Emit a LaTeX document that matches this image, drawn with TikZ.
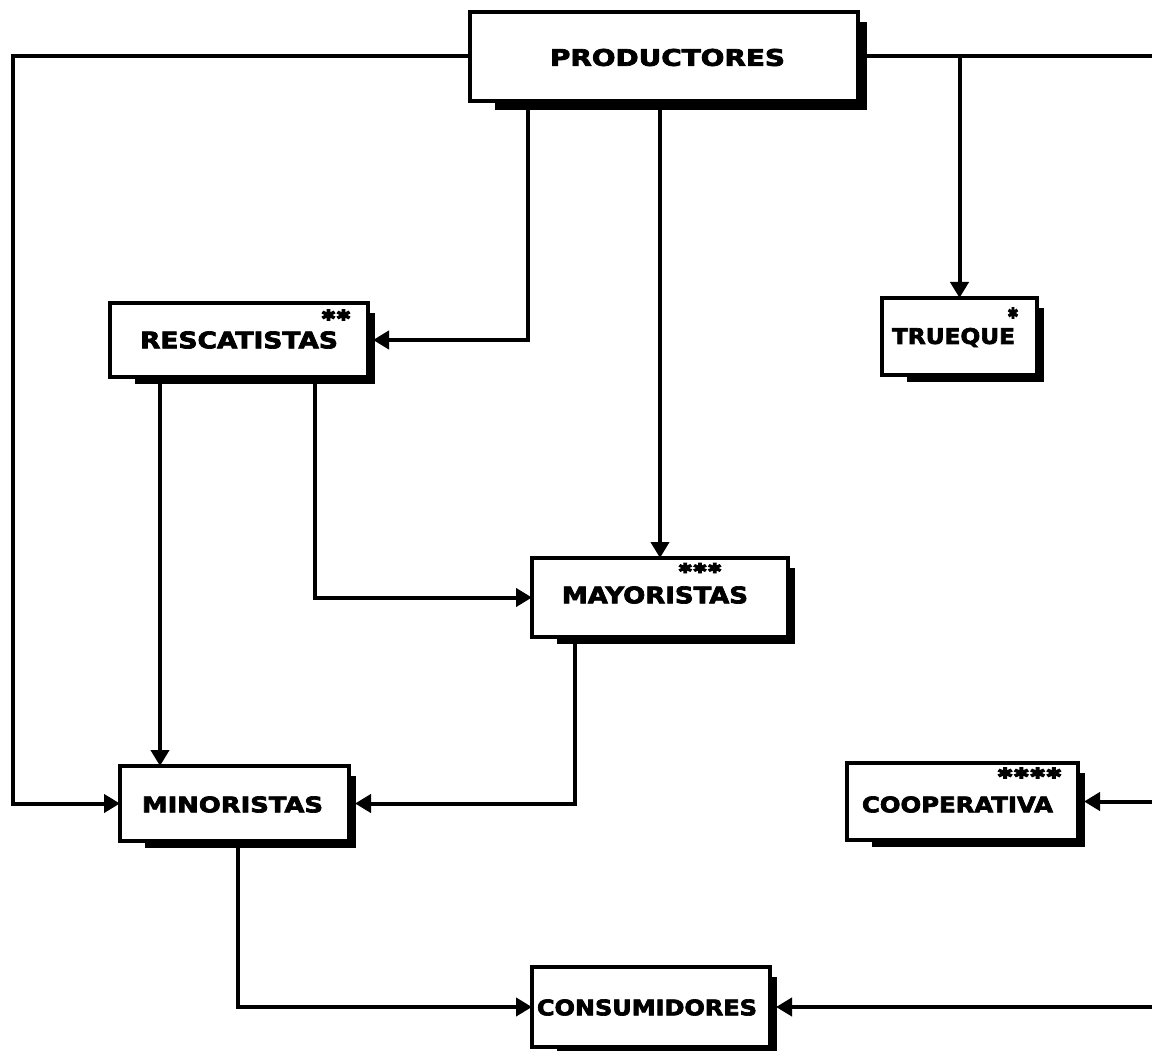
\documentclass[tikz,border=0pt]{standalone}
\usepackage{fontspec}
\setmainfont{DejaVu Sans}
\newfontfamily\heavy[BoldFeatures={FakeBold=3}]{DejaVu Sans}
\newfontfamily\starfont[FakeBold=6]{DejaVu Sans}
\usetikzlibrary{arrows.meta}
\tikzset{
  bx/.style={draw, line width=4.5pt, fill=white, inner sep=0pt, outer sep=0pt, rectangle},
  lbl/.style={inner sep=0pt, outer sep=0pt, anchor=center},
  conn/.style={line width=4pt, -{Triangle[length=16pt,width=18pt]}},
  plain/.style={line width=4pt}
}
\newcommand{\bxdraw}[6]{%
  \fill ({#2+25},{#3+10}) rectangle ({#4+#6},{#5+#6});
  \node[bx, minimum width={#4-#2}, minimum height={#5-#3}] (#1) at ({(#2+#4)/2},{(#3+#5)/2}) {};
}
\newcommand{\lab}[3]{\resizebox{#1pt}{#2pt}{\heavy\bfseries #3}}
\begin{document}
\begin{tikzpicture}[x=1pt,y=-1pt]
\useasboundingbox (0,0) rectangle (1152,1051);
% boxes
\bxdraw{prod}{470}{12}{858}{101}{9}
\bxdraw{resc}{110}{303}{368}{377}{7}
\bxdraw{truq}{882}{298}{1037}{375}{7}
\bxdraw{mayo}{532}{558}{788}{637}{7}
\bxdraw{mino}{120}{766}{349}{841}{7}
\bxdraw{coop}{847}{763}{1078}{840}{7}
\bxdraw{cons}{532}{967}{770}{1047}{7}
% labels
\node[lbl] (prodT) at (667.5,57.5) {\lab{235}{17}{PRODUCTORES}};
\node[lbl] (rescT) at (239,340) {\lab{198}{17}{RESCATISTAS}};
\node[lbl] (truqT) at (953.5,337.5) {\lab{123}{16}{TRUEQUE}};
\node[lbl] (mayoT) at (655,595) {\lab{186}{17}{MAYORISTAS}};
\node[lbl] (minoT) at (232.5,804.5) {\lab{181}{16}{MINORISTAS}};
\node[lbl] (coopT) at (957.5,804.5) {\lab{191}{16}{COOPERATIVA}};
\node[lbl] (consT) at (647,1007.5) {\lab{220}{16}{CONSUMIDORES}};
% asterisks
\node[lbl] (rescS) at (336,315) {\resizebox{30pt}{11pt}{\starfont ✱✱}};
\node[lbl] (truqS) at (1013,313) {\resizebox{11pt}{11pt}{\starfont ✱}};
\node[lbl] (mayoS) at (700,568) {\resizebox{44pt}{10pt}{\starfont ✱✱✱}};
\node[lbl] (coopS) at (1029.5,773) {\resizebox{65pt}{11pt}{\starfont ✱✱✱✱}};
% helper coordinates
\coordinate (cL) at (13,0);
\coordinate (eR) at (1152,0);
\coordinate (x528) at (528,0);
\coordinate (x160) at (160,0);
\coordinate (x315) at (315,0);
\coordinate (x575) at (575,0);
\coordinate (x238) at (238,0);
% connectors
\draw[conn] (prod.west) -| (cL |- mino.west) -- (mino.west);
\draw[plain] (prod.east) -- (prod.east -| eR);
\draw[conn] (prod.east -| truq.north) -- (truq.north);
\draw[conn] (prod.south -| x528) |- ([xshift=5pt]resc.east);
\draw[conn] (prod.south -| mayo.north) -- (mayo.north);
\draw[conn] (resc.south -| x160) -- (mino.north -| x160);
\draw[conn] (resc.south -| x315) |- (mayo.west);
\draw[conn] (mayo.south -| x575) |- ([xshift=6pt]mino.east);
\draw[conn] (mino.south -| x238) |- (cons.west);
\draw[conn] (coop.east -| eR) -- ([xshift=6pt]coop.east);
\draw[conn] (cons.east -| eR) -- ([xshift=6pt]cons.east);
\end{tikzpicture}
\end{document}
